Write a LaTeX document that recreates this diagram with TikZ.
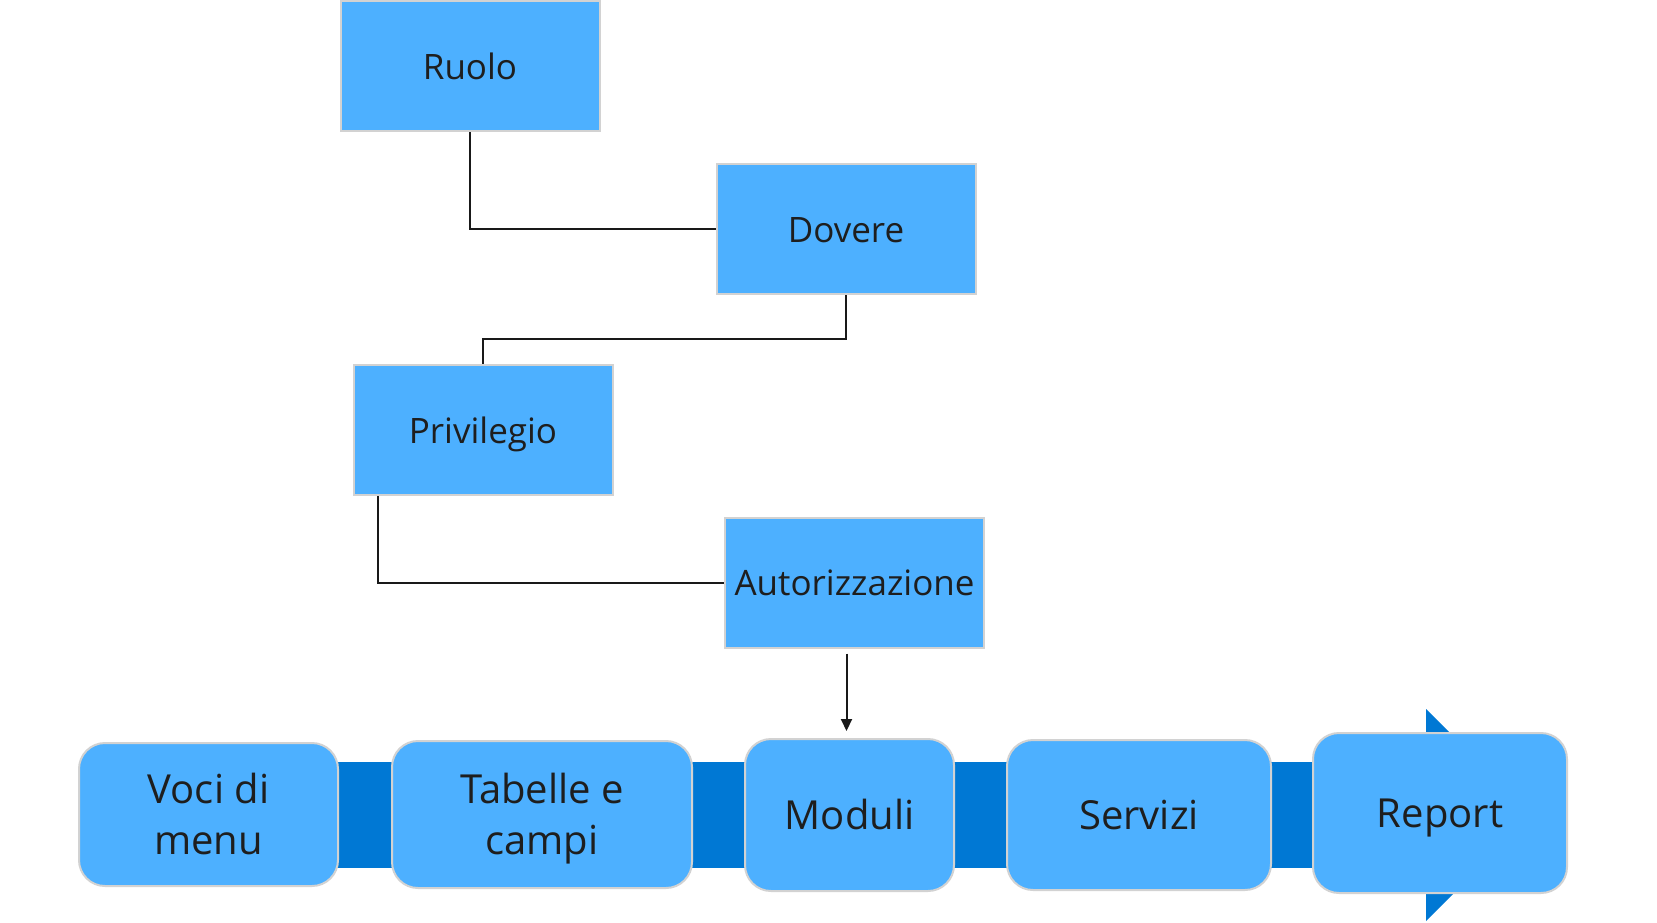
\documentclass[tikz,border=0pt]{standalone}
\usepackage{fontspec}
\setmainfont{Open Sans}
\usetikzlibrary{arrows.meta,calc}
\definecolor{boxblue}{HTML}{4DB0FF}
\definecolor{darkblue}{HTML}{0078D4}
\definecolor{boxedge}{HTML}{D2D2D2}
\definecolor{txt}{HTML}{1E1E1E}
\newcommand{\boxtext}[1]{\raisebox{-4pt}[\height][\depth]{\begin{tabular}{@{}c@{}}#1\end{tabular}}}
\tikzset{
  topbox/.style={rectangle, fill=boxblue, draw=boxedge, line width=2pt, inner sep=0pt,
    minimum width=259pt, minimum height=130pt, text=txt,
    font=\fontsize{35}{47}\selectfont},
  procbox/.style={rectangle, rounded corners=26pt, fill=boxblue, draw=boxedge, line width=2pt,
    inner sep=0pt, text=txt, font=\fontsize{40}{51}\selectfont},
  conn/.style={draw=black!90, line width=2pt},
}
\begin{document}
\begin{tikzpicture}[x=1pt,y=-1pt]
\useasboundingbox (0,0) rectangle (1657,922);
% top hierarchy
\node[topbox] (ruolo) at (470,66) {\boxtext{Ruolo}};
\node[topbox] (dovere) at (846,229) {\boxtext{Dovere}};
\node[topbox] (priv) at (483,430) {\boxtext{Privilegio}};
\node[topbox] (auto) at (854.5,582.5) {\boxtext{Autorizzazione}};
% process band and arrow head
\fill[darkblue] (208,762) rectangle (1426,868);
\fill[darkblue] (1426,709) -- (1532,815) -- (1426,921) -- cycle;
% process boxes
\node[procbox, minimum width=259pt, minimum height=143pt] (voci) at (208.5,814.5) {\boxtext{Voci di\\menu}};
\node[procbox, minimum width=300pt, minimum height=147pt] (tab) at (542,814.5) {\boxtext{Tabelle e\\campi}};
\node[procbox, minimum width=209pt, minimum height=152pt] (moduli) at (849.5,815) {\boxtext{Moduli}};
\node[procbox, minimum width=264pt, minimum height=150pt] (serv) at (1139,815) {\boxtext{Servizi}};
\node[procbox, minimum width=254pt, minimum height=160pt] (report) at (1440,813) {\boxtext{Report}};
% connectors
\draw[conn] (ruolo.south) |- (dovere.west);
\draw[conn] (dovere.south) -- ++(0,44) -| (priv.north);
\draw[conn] ([xshift=25pt]priv.south west) |- (auto.west);
\draw[conn, -{Triangle[width=11pt,length=12pt]}, shorten >=7pt]
  ([xshift=-8pt,yshift=-5pt]auto.south) -- ([xshift=-8pt]auto.south |- moduli.north);
\end{tikzpicture}
\end{document}
